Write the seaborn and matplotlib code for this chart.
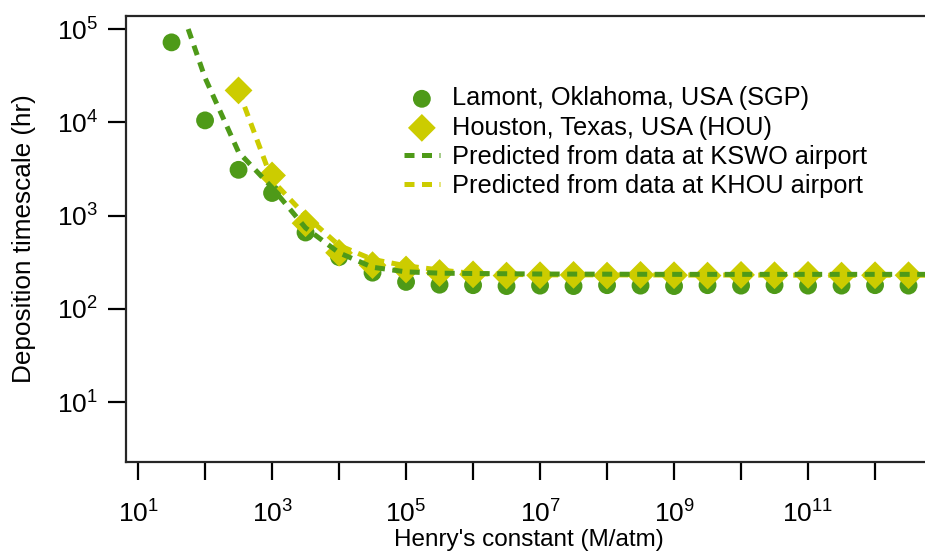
import math
import matplotlib
matplotlib.use("Agg")
import matplotlib.pyplot as plt
import matplotlib.ticker as mticker
import pandas as pd
import seaborn as sns

# measured deposition timescales (hr) vs Henry's constant (M/atm)
sgp_h = [3.16e1, 1e2, 3.16e2, 1e3, 3.16e3, 1e4, 3.16e4, 1e5, 3.16e5, 1e6, 3.16e6, 1e7,
         3.16e7, 1e8, 3.16e8, 1e9, 3.16e9, 1e10, 3.16e10, 1e11, 3.16e11, 1e12, 3.16e12]
sgp_tau = [72000, 10500, 3100, 1750, 660, 360, 245, 195, 182, 180, 176, 178,
           176, 180, 178, 176, 180, 178, 180, 178, 178, 180, 178]

hou_h = [3.16e2, 1e3, 3.16e3, 1e4, 3.16e4, 1e5, 3.16e5, 1e6, 3.16e6, 1e7, 3.16e7,
         1e8, 3.16e8, 1e9, 3.16e9, 1e10, 3.16e10, 1e11, 3.16e11, 1e12, 3.16e12]
hou_tau = [22000, 2700, 830, 400, 295, 265, 243, 235, 228, 230, 232,
           228, 232, 230, 228, 232, 230, 232, 228, 230, 230]

# predictions from airport met data
kswo_h = [5.6e1, 1e2, 3.16e2, 1e3, 3.16e3, 1e4, 3.16e4, 1e5, 3.16e5, 1e6, 1e7, 1e8,
          1e9, 1e10, 1e11, 1e12, 1e13]
kswo_tau = [100000, 30000, 4800, 2000, 740, 400, 280, 250, 242, 240, 237, 236,
            235, 235, 235, 235, 235]

khou_h = [3.16e2, 1e3, 3.16e3, 1e4, 3.16e4, 1e5, 3.16e5, 1e6, 3.16e6, 1e7, 1e8,
          1e9, 1e10, 1e11, 1e12, 1e13]
khou_tau = [22000, 2400, 1000, 480, 340, 290, 262, 240, 235, 232, 232,
            231, 231, 230, 230, 230]

green = "#4e9a18"
yellow = "#cccc00"

sns.set_style("ticks")
plt.rcParams["font.family"] = ["Liberation Sans", "DejaVu Sans"]
plt.rcParams["mathtext.fontset"] = "custom"
plt.rcParams["mathtext.rm"] = "Liberation Sans"
plt.rcParams["mathtext.it"] = "Liberation Sans:italic"
plt.rcParams["text.color"] = "black"
plt.rcParams["axes.labelcolor"] = "black"
plt.rcParams["xtick.color"] = "black"
plt.rcParams["ytick.color"] = "black"

sgp = pd.DataFrame({"H": sgp_h, "tau": sgp_tau})
hou = pd.DataFrame({"H": hou_h, "tau": hou_tau})
kswo = pd.DataFrame({"H": kswo_h, "tau": kswo_tau})
khou = pd.DataFrame({"H": khou_h, "tau": khou_tau})

fig = plt.figure(figsize=(9.25, 5.54), dpi=100)
ax = fig.add_axes([126 / 925, 92 / 554, 806 / 925, 446 / 554])
ax.set_xscale("log")
ax.set_yscale("log")

sns.scatterplot(data=sgp, x="H", y="tau", ax=ax, marker="o", s=165, color=green,
                edgecolor="none", zorder=2, label="Lamont, Oklahoma, USA (SGP)")
sns.scatterplot(data=hou, x="H", y="tau", ax=ax, marker="D", s=200, color=yellow,
                edgecolor="none", zorder=3, label="Houston, Texas, USA (HOU)")
sns.lineplot(data=kswo, x="H", y="tau", ax=ax, color=green, linewidth=3.6, zorder=5,
             label="Predicted from data at KSWO airport")
sns.lineplot(data=khou, x="H", y="tau", ax=ax, color=yellow, linewidth=3.6, zorder=4,
             label="Predicted from data at KHOU airport")
for ln in ax.lines:
    ln.set_linestyle((0, (2.0, 1.5)))

ax.set_xlim(10 ** 0.82, 10 ** 12.85)
ax.set_ylim(10 ** 0.36, 10 ** 5.14)


def odd_decades(v, pos):
    k = round(math.log10(v))
    return r"$10^{%d}$" % k if k % 2 == 1 else ""


ax.xaxis.set_major_locator(mticker.FixedLocator([10.0 ** k for k in range(1, 13)]))
ax.xaxis.set_major_formatter(mticker.FuncFormatter(odd_decades))
ax.xaxis.set_minor_locator(mticker.NullLocator())
ax.yaxis.set_major_locator(mticker.FixedLocator([10.0 ** k for k in range(1, 6)]))
ax.yaxis.set_major_formatter(mticker.FuncFormatter(
    lambda v, p: r"$10^{%d}$" % round(math.log10(v))))
ax.yaxis.set_minor_locator(mticker.NullLocator())

for s in ax.spines.values():
    s.set_linewidth(1.6)
ax.tick_params(axis="both", length=13, width=1.6, labelsize=19)
ax.tick_params(axis="x", pad=15)
ax.tick_params(axis="y", pad=7)

ax.set_xlabel("Henry's constant (M/atm)", fontsize=17.5, labelpad=0.5)
ax.set_ylabel("Deposition timescale (hr)", fontsize=18.8, labelpad=15)

leg = ax.legend(loc="upper left", bbox_to_anchor=(0.345, 0.842), frameon=False,
                fontsize=18.3, handlelength=1.4, handletextpad=0.5, labelspacing=0.2,
                borderpad=0, borderaxespad=0)

fig.savefig("out.png", dpi=100)
